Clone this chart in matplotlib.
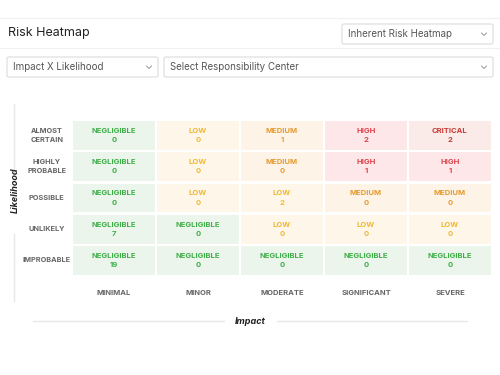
import matplotlib.pyplot as plt
from matplotlib.patches import Rectangle, FancyBboxPatch
from matplotlib.lines import Line2D

plt.rcParams['font.family'] = ['Inter', 'DejaVu Sans']

# Heatmap data (top row first)
likelihood = ["ALMOST\nCERTAIN", "HIGHLY\nPROBABLE", "POSSIBLE", "UNLIKELY", "IMPROBABLE"]
impact = ["MINIMAL", "MINOR", "MODERATE", "SIGNIFICANT", "SEVERE"]
levels = [
    ["NEGLIGIBLE", "LOW", "MEDIUM", "HIGH", "CRITICAL"],
    ["NEGLIGIBLE", "LOW", "MEDIUM", "HIGH", "HIGH"],
    ["NEGLIGIBLE", "LOW", "LOW", "MEDIUM", "MEDIUM"],
    ["NEGLIGIBLE", "NEGLIGIBLE", "LOW", "LOW", "LOW"],
    ["NEGLIGIBLE", "NEGLIGIBLE", "NEGLIGIBLE", "NEGLIGIBLE", "NEGLIGIBLE"],
]
counts = [
    [0, 0, 1, 2, 2],
    [0, 0, 0, 1, 1],
    [0, 0, 2, 0, 0],
    [7, 0, 0, 0, 0],
    [19, 0, 0, 0, 0],
]

# level -> (background, text)
colors = {
    "NEGLIGIBLE": ("#ebf5eb", "#3fae49"),
    "LOW": ("#fef7e9", "#efb935"),
    "MEDIUM": ("#fdf4e7", "#e79b32"),
    "HIGH": ("#fde7e8", "#e0434d"),
    "CRITICAL": ("#fbebe8", "#c93b38"),
}

W, H = 500, 375
fig = plt.figure(figsize=(5, 3.75), dpi=100)
fig.patch.set_facecolor("white")


def fx(px):
    return px / W


def fy(py):
    return 1 - py / H


# header
fig.text(fx(8), fy(33), "Risk Heatmap", fontsize=9, color="#222222", va="center")
fig.add_artist(Line2D([0, 1], [fy(18), fy(18)], color="#f0f0f0", lw=0.8))
fig.add_artist(Line2D([0, 1], [fy(48), fy(48)], color="#f0f0f0", lw=0.8))


def dropdown(x0, y0, x1, y1, label):
    box = FancyBboxPatch((fx(x0), fy(y1)), fx(x1 - x0), fy(y0) - fy(y1),
                         boxstyle="round,pad=0,rounding_size=0.004",
                         transform=fig.transFigure, facecolor="white",
                         edgecolor="#dcdcdc", lw=0.8)
    fig.add_artist(box)
    ym = (y0 + y1) / 2
    fig.text(fx(x0 + 6), fy(ym), label, fontsize=7, color="#555555", va="center")
    # small chevron
    cx = x1 - 9
    fig.add_artist(Line2D([fx(cx - 2.5), fx(cx), fx(cx + 2.5)], [fy(ym - 1), fy(ym + 1.5), fy(ym - 1)],
                          color="#999999", lw=0.7))


dropdown(342, 24, 493, 44, "Inherent Risk Heatmap")
dropdown(7, 57, 158, 77, "Impact X Likelihood")
dropdown(164, 57, 493, 77, "Select Responsibility Center")

# heatmap grid
ax = fig.add_axes([fx(72), fy(276), fx(492 - 72), fy(120) - fy(276)])
n_rows, n_cols = len(likelihood), len(impact)
ax.set_xlim(-0.5, n_cols - 0.5)
ax.set_ylim(n_rows - 0.5, -0.5)
ax.axis("off")

cw, ch = 0.975, 0.92
for i in range(n_rows):
    for j in range(n_cols):
        bg, fg = colors[levels[i][j]]
        ax.add_patch(Rectangle((j - cw / 2, i - ch / 2), cw, ch, facecolor=bg, edgecolor="none"))
        ax.text(j, i - 0.15, levels[i][j], ha="center", va="center", fontsize=5.5,
                fontweight="bold", color=fg)
        ax.text(j, i + 0.15, str(counts[i][j]), ha="center", va="center", fontsize=5.5,
                fontweight="bold", color=fg)

for i, lab in enumerate(likelihood):
    ax.text(-0.8, i, lab, ha="center", va="center", fontsize=5.3, fontweight="bold",
            color="#666666", linespacing=1.6)
for j, lab in enumerate(impact):
    ax.text(j, n_rows - 0.5 + 0.55, lab, ha="center", va="center", fontsize=5.5,
            fontweight="bold", color="#666666")

# axis titles and decorative lines
fig.text(fx(15), fy(190), "Likelihood", rotation=90, fontsize=6.5, fontstyle="italic",
         fontweight="bold", color="#222222", ha="center", va="center")
fig.add_artist(Line2D([fx(14), fx(14)], [fy(104), fy(172)], color="#e8e8e8", lw=1))
fig.add_artist(Line2D([fx(14), fx(14)], [fy(234), fy(301)], color="#e8e8e8", lw=1))

fig.text(fx(250), fy(321), "Impact", fontsize=6.5, fontstyle="italic",
         fontweight="bold", color="#222222", ha="center", va="center")
fig.add_artist(Line2D([fx(33), fx(224)], [fy(321), fy(321)], color="#e8e8e8", lw=1))
fig.add_artist(Line2D([fx(277), fx(467)], [fy(321), fy(321)], color="#e8e8e8", lw=1))

fig.savefig("out.png", dpi=100)
